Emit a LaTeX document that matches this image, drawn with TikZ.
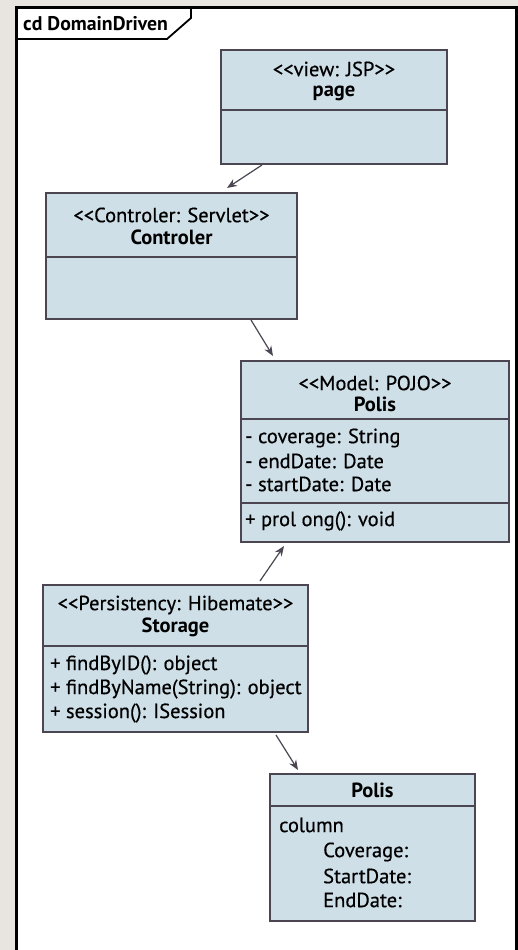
\documentclass[tikz,border=0pt]{standalone}
\usepackage{fontspec}
\setmainfont{PT Sans}[UprightFeatures={FakeBold=0.5}]
\usetikzlibrary{arrows.meta}
\definecolor{boxfill}{HTML}{CEDFE8}
\definecolor{boxline}{HTML}{4B4652}
\definecolor{bggray}{HTML}{E8E5E0}
\newcommand\dlt{<\kern0pt<}
\newcommand\dgt{>\kern0pt>}
\tikzset{
  umlbox/.style={draw=boxline, fill=boxfill, line width=1.6pt, inner sep=0pt, outer sep=0pt},
  divline/.style={draw=boxline, line width=1.6pt},
  ctext/.style={inner sep=0pt, anchor=center, font=\fontsize{20.5}{24}\selectfont},
  btext/.style={inner sep=0pt, anchor=center, font=\fontsize{20.5}{24}\selectfont\bfseries},
  ltext/.style={inner sep=0pt, anchor=west, font=\fontsize{20.5}{24}\selectfont},
  arr/.style={draw=boxline, line width=1.2pt, -{Stealth[length=10pt,width=8pt]}},
}
\begin{document}
\begin{tikzpicture}[x=1pt,y=-1pt]
\useasboundingbox (0,0) rectangle (518,950);
\fill[bggray] (0,0) rectangle (518,950);
\fill[white] (16.5,8) rectangle (516,960);
\draw[line width=3pt] (16.5,960) -- (16.5,8) -- (516,8) -- (516,960);
% tab
\draw[line width=1.8pt] (16.5,39) -- (167,39) -- (191,18) -- (191,8);
\node[inner sep=0pt, anchor=base west, font=\fontsize{19.8}{22}\selectfont\bfseries] (title) at (23,31) {cd DomainDriven};

% page
\node[umlbox, minimum width=226pt, minimum height=114pt] (page) at (334,107) {};
\draw[divline] (221,110) -- (447,110);
\node[ctext] (pagest) at (334,69) {\dlt view: JSP\dgt};
\node[btext] (pagename) at (334,93) {page};

% Controler
\node[umlbox, minimum width=251pt, minimum height=126pt] (ctrl) at (171.5,256) {};
\draw[divline] (46,257) -- (297,257);
\node[ctext] (ctrlst) at (171.5,215) {\dlt Controler: Servlet\dgt};
\node[btext] (ctrlname) at (171.5,237) {Controler};

% Model Polis
\node[umlbox, minimum width=268pt, minimum height=181pt] (model) at (375,451.5) {};
\draw[divline] (241,419) -- (509,419);
\draw[divline] (241,503) -- (509,503);
\node[ctext] (modelst) at (375,383) {\dlt Model: POJO\dgt};
\node[btext] (modelname) at (375,404) {Polis};
\node[ltext] (ma1) at (245,438) {- coverage: String};
\node[ltext] (ma2) at (245,461) {- endDate: Date};
\node[ltext] (ma3) at (245,484) {- startDate: Date};
\node[ltext] (mm1) at (245,521) {+ prol ong(): void};

% Storage
\node[umlbox, minimum width=265pt, minimum height=147pt] (stor) at (175.5,658.5) {};
\draw[divline] (43,646) -- (308,646);
\node[ctext] (storst) at (175.5,605) {\dlt Persistency: Hibemate\dgt};
\node[btext] (storname) at (175.5,627) {Storage};
\node[ltext] (sm1) at (50,665) {+ findByID(): object};
\node[ltext] (sm2) at (50,689) {+ findByName(String): object};
\node[ltext] (sm3) at (50,713) {+ session(): ISession};

% Table Polis
\node[umlbox, minimum width=205pt, minimum height=147pt] (table) at (372.5,847.5) {};
\draw[divline] (270,806) -- (475,806);
\node[btext] (tablename) at (372.5,790) {Polis};
\node[ltext] (tc) at (279,825) {column};
\node[ltext] (tc1) at (323,852) {Coverage:};
\node[ltext] (tc2) at (323,876) {StartDate:};
\node[ltext] (tc3) at (323,900) {EndDate:};

% connectors
\draw[arr] ([xshift=41pt,yshift=-1pt]page.south west) -- ([xshift=181pt,yshift=5pt]ctrl.north west);
\draw[arr] ([xshift=205pt,yshift=-1pt]ctrl.south west) -- ([xshift=32pt,yshift=5pt]model.north west);
\draw[arr] ([xshift=217pt,yshift=4pt]stor.north west) -- ([xshift=43pt,yshift=-4pt]model.south west);
\draw[arr] ([xshift=233pt,yshift=-3pt]stor.south west) -- ([xshift=28pt,yshift=4pt]table.north west);
\end{tikzpicture}
\end{document}
